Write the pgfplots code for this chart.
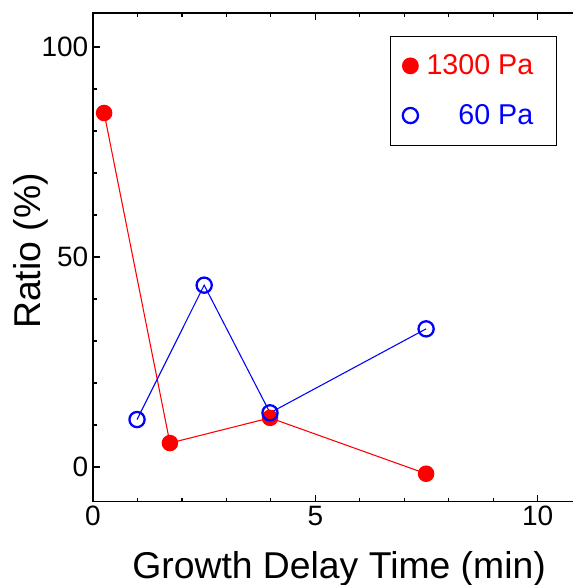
\documentclass[border=0pt]{standalone}
\usepackage{fontspec}
\setmainfont{Liberation Sans}
\usepackage{pgfplots}
\pgfplotsset{compat=1.18}
\begin{document}
\begin{tikzpicture}
\begin{axis}[
  at={(69.75pt,62.475pt)}, anchor=south west,
  scale only axis, width=366.9pt, height=366.5pt,
  xmin=0, xmax=11, ymin=-8.26, ymax=108.1,
  xtick={0,5,10}, ytick={0,50,100},
  minor x tick num=4, minor y tick num=4,
  ytick pos=left, tick align=inside,
  major tick length=5pt, minor tick length=3pt,
  axis line style={line width=1pt},
  every tick/.style={black, line width=0.9pt},
  /pgf/number format/assume math mode=true,
  tick label style={font=\fontsize{21}{25}\selectfont},
  xlabel={Growth Delay Time (min)},
  ylabel={Ratio (\%)},
  every axis x label/.style={at={(axis description cs:0.503,-0.158)}, anchor=base, font=\fontsize{28}{33}\selectfont},
  every axis y label/.style={at={(axis description cs:-0.1267,0.513)}, rotate=90, anchor=center, font=\fontsize{28}{33}\selectfont},
  legend cell align=right,
  legend style={at={(0.6071,0.954)}, anchor=north west, draw=black, line width=1pt,
    font=\fontsize{21.5}{25}\selectfont, inner xsep=9pt, inner ysep=12pt, row sep=16.75pt,
    column sep=4.3pt},
]
\addplot[red, line width=0.8pt, mark=*, mark size=5.8pt, mark options={solid, fill=red}, forget plot]
  coordinates {(0.25,84.3) (1.73,5.7) (3.98,11.7) (7.49,-1.6)};
\addplot[blue, line width=0.8pt, mark=o, mark size=5.7pt, mark options={solid, line width=1.7pt}, forget plot]
  coordinates {(0.99,11.3) (2.5,43.3) (3.98,12.9) (7.49,32.9)};
\addlegendimage{only marks, mark=*, red, mark size=5.8pt, mark options={fill=red}}
\addlegendentry{\textcolor{red}{1300 Pa}\kern6.2pt}
\addlegendimage{only marks, mark=o, blue, mark size=5.7pt, mark options={line width=1.7pt}}
\addlegendentry{\textcolor{blue}{60 Pa}\kern6.2pt}
\end{axis}
\pgfresetboundingbox
\useasboundingbox (0,0) rectangle (429pt,438.75pt);
\end{tikzpicture}
\end{document}
